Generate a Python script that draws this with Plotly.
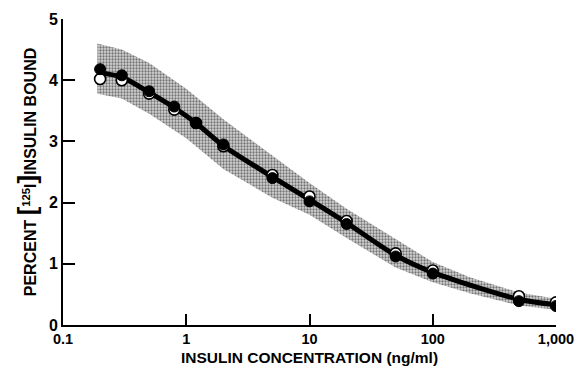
import plotly.graph_objects as go

# Concentrations (ng/ml)
conc = [0.2, 0.3, 0.5, 0.8, 1.2, 2, 5, 10, 20, 50, 100, 500, 1000]
# Filled circles
filled_y = [4.18, 4.08, 3.82, 3.57, 3.30, 2.95, 2.40, 2.02, 1.65, 1.12, 0.84, 0.39, 0.31]
# Open circles
open_y = [4.02, 4.00, 3.78, 3.52, 3.30, 2.92, 2.45, 2.10, 1.70, 1.17, 0.89, 0.47, 0.37]
# Fitted curve
curve_y = [4.12, 4.05, 3.80, 3.55, 3.30, 2.93, 2.42, 2.05, 1.67, 1.14, 0.86, 0.42, 0.33]
# Shaded confidence band
band_x = [0.19, 0.3, 0.5, 1, 2, 5, 10, 20, 50, 100, 200, 500, 1000]
band_upper = [4.60, 4.50, 4.28, 3.86, 3.36, 2.76, 2.32, 1.90, 1.40, 1.03, 0.78, 0.53, 0.43]
band_lower = [3.78, 3.70, 3.45, 3.05, 2.55, 2.08, 1.80, 1.42, 0.94, 0.70, 0.52, 0.32, 0.25]

x_ticks = [0.1, 1, 10, 100, 1000]
x_ticktext = ["0.1", "1", "10", "100", "1,000"]
y_ticks = [0, 1, 2, 3, 4, 5]

FONT = "Liberation Sans"

fig = go.Figure()

fig.add_trace(go.Scatter(
    x=band_x + band_x[::-1],
    y=band_upper + band_lower[::-1],
    fill="toself",
    mode="lines",
    line=dict(width=0),
    fillcolor="rgba(0,0,0,0)",
    fillpattern=dict(shape=".", fgcolor="#111111", bgcolor="#d4d4d4",
                     size=3, solidity=0.45),
    hoverinfo="skip",
    showlegend=False,
))

fig.add_trace(go.Scatter(
    x=conc, y=curve_y, mode="lines",
    line=dict(color="black", width=5, shape="spline", smoothing=0.8),
    showlegend=False,
))

fig.add_trace(go.Scatter(
    x=conc, y=open_y, mode="markers",
    marker=dict(symbol="circle", size=11, color="white",
                line=dict(color="black", width=1.6)),
    showlegend=False,
))

fig.add_trace(go.Scatter(
    x=conc, y=filled_y, mode="markers",
    marker=dict(symbol="circle", size=11, color="black",
                line=dict(color="black", width=1)),
    showlegend=False,
))

fig.update_layout(
    width=577, height=374,
    margin=dict(l=63, r=21, t=19, b=49),
    paper_bgcolor="white", plot_bgcolor="white",
    font=dict(family=FONT, color="black"),
    xaxis=dict(
        type="log", range=[-1, 3], automargin=False,
        ticklabeloverflow="allow",
        tickvals=x_ticks, ticktext=x_ticktext,
        ticks="inside", ticklen=11, tickwidth=2, tickcolor="black",
        showline=True, linecolor="black", linewidth=2,
        showgrid=False, zeroline=False,
        tickfont=dict(family=FONT, size=14.5, weight="bold", color="black"),
        title=dict(text="INSULIN CONCENTRATION (ng/ml)",
                   font=dict(family=FONT, size=15.5, weight="bold", color="black"),
                   standoff=6),
    ),
    yaxis=dict(
        range=[0, 5], automargin=False,
        ticklabeloverflow="allow",
        tickvals=y_ticks,
        ticks="inside", ticklen=12, tickwidth=2, tickcolor="black",
        showline=True, linecolor="black", linewidth=2,
        showgrid=False, zeroline=False,
        tickfont=dict(family=FONT, size=16, weight="bold", color="black"),
        title=dict(text="PERCENT <span style='font-size:26px'>[</span><sup>125</sup>I<span style='font-size:26px'>]</span>INSULIN BOUND",
                   font=dict(family=FONT, size=16, weight="bold", color="black"),
                   standoff=8),
    ),
)

fig.write_html("out.html")
